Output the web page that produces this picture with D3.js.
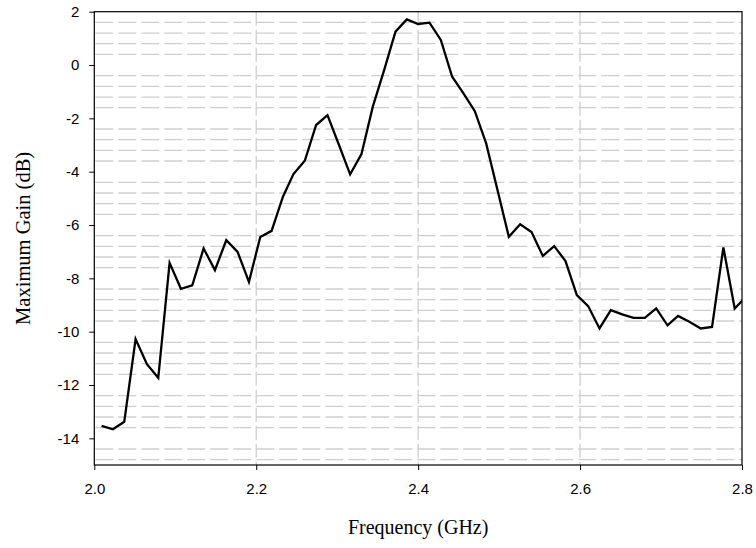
<!DOCTYPE html>
<html>
<head>
<meta charset="utf-8">
<script src="https://cdn.jsdelivr.net/npm/d3@7"></script>
<style>
  html, body { margin: 0; padding: 0; background: #fff; }
  svg { display: block; }
</style>
</head>
<body>
<svg id="chart" width="756" height="548"></svg>
<script>
// ---- Data ----
const frequencies = [
  2.009, 2.023, 2.037, 2.051, 2.065, 2.079, 2.093, 2.107, 2.121, 2.135,
  2.149, 2.163, 2.177, 2.191, 2.205, 2.219, 2.233, 2.246, 2.260, 2.274,
  2.288, 2.302, 2.316, 2.330, 2.344, 2.358, 2.372, 2.386, 2.400, 2.414,
  2.428, 2.442, 2.456, 2.470, 2.484, 2.498, 2.512, 2.526, 2.540, 2.554,
  2.568, 2.582, 2.596, 2.610, 2.624, 2.638, 2.652, 2.666, 2.680, 2.694,
  2.708, 2.721, 2.735, 2.749, 2.763, 2.777, 2.791, 2.805
];
const gainDb = [
  -13.53, -13.66, -13.38, -10.28, -11.22, -11.73, -7.42, -8.39, -8.26, -6.88,
  -7.69, -6.57, -7.01, -8.13, -6.45, -6.22, -4.94, -4.09, -3.59, -2.25,
  -1.88, -2.98, -4.10, -3.34, -1.56, -0.19, 1.25, 1.71, 1.54, 1.59,
  0.94, -0.44, -1.06, -1.73, -2.94, -4.69, -6.44, -5.97, -6.26, -7.16,
  -6.79, -7.35, -8.63, -9.04, -9.88, -9.19, -9.35, -9.48, -9.48, -9.13,
  -9.76, -9.41, -9.63, -9.88, -9.82, -6.84, -9.13, -8.69
];
const xTicks = [2.0, 2.2, 2.4, 2.6, 2.8];
const xTickLabels = ["2.0", "2.2", "2.4", "2.6", "2.8"];
const yTicks = [2, 0, -2, -4, -6, -8, -10, -12, -14];
const yTickLabels = ["2", "0", "-2", "-4", "-6", "-8", "-10", "-12", "-14"];
const xTitle = "Frequency (GHz)";
const yTitle = "Maximum Gain (dB)";

// ---- Layout ----
const svg = d3.select("#chart");
const pL = 94.3, pR = 742, pT = 11.7, pB = 465;
const x = d3.scaleLinear().domain([2.0, 2.8]).range([pL, pR]);
const y = d3.scaleLinear().domain([-15, 2]).range([pB, pT]);

// minor horizontal grid every 0.4 below each major tick (excluding majors)
const minorY = [];
for (let i = 0; i < yTicks.length; i++) {
  for (let k = 1; k <= 4; k++) {
    const v = +(yTicks[i] - 0.4 * k).toFixed(2);
    if (v > -15) minorY.push(v);
  }
}

const grid = svg.append("g");
grid.selectAll("line.hy").data(minorY).enter().append("line")
  .attr("x1", pL + 1).attr("x2", pR)
  .attr("y1", d => y(d)).attr("y2", d => y(d))
  .attr("stroke", "#cfcfcf").attr("stroke-width", 1.3)
  .attr("stroke-dasharray", "18,5");

grid.selectAll("line.vx").data(xTicks.slice(1, -1)).enter().append("line")
  .attr("x1", d => x(d)).attr("x2", d => x(d))
  .attr("y1", pT).attr("y2", pB)
  .attr("stroke", "#cfcfcf").attr("stroke-width", 1.3)
  .attr("stroke-dasharray", "14,4");

// clip
svg.append("clipPath").attr("id", "clip")
  .append("rect").attr("x", pL).attr("y", pT)
  .attr("width", pR - pL).attr("height", pB - pT);

// data line
const line = d3.line().x((d, i) => x(frequencies[i])).y(d => y(d));
svg.append("path")
  .datum(gainDb)
  .attr("clip-path", "url(#clip)")
  .attr("d", line)
  .attr("fill", "none")
  .attr("stroke", "#000")
  .attr("stroke-width", 2.3)
  .attr("stroke-linejoin", "miter");

// frame
svg.append("rect").attr("x", pL).attr("y", pT)
  .attr("width", pR - pL).attr("height", pB - pT)
  .attr("fill", "none").attr("stroke", "#000").attr("stroke-width", 1.2);

// axes
const yAxis = d3.axisLeft(y).tickValues(yTicks).tickSize(5).tickPadding(10)
  .tickFormat((d, i) => yTickLabels[i]);
const gy = svg.append("g").attr("transform", `translate(${pL},0)`).call(yAxis);
gy.select(".domain").remove();
gy.selectAll("text").attr("font-family", "Liberation Sans, Arial, sans-serif")
  .attr("font-size", 15).attr("fill", "#000");
gy.selectAll("line").attr("stroke", "#000");

const xAxis = d3.axisBottom(x).tickValues(xTicks).tickSize(5).tickPadding(13)
  .tickFormat((d, i) => xTickLabels[i]);
const gx = svg.append("g").attr("transform", `translate(0,${pB})`).call(xAxis);
gx.select(".domain").remove();
gx.selectAll("text").attr("font-family", "Liberation Sans, Arial, sans-serif")
  .attr("font-size", 15).attr("fill", "#000");
gx.selectAll("line").attr("stroke", "#000");

// titles
svg.append("text")
  .attr("x", (pL + pR) / 2).attr("y", 534)
  .attr("text-anchor", "middle")
  .attr("font-family", "Liberation Serif, Times New Roman, serif")
  .attr("font-size", 20).attr("fill", "#000")
  .text(xTitle);

svg.append("text")
  .attr("transform", `translate(30,${(pT + pB) / 2}) rotate(-90)`)
  .attr("text-anchor", "middle")
  .attr("font-family", "Liberation Serif, Times New Roman, serif")
  .attr("font-size", 20.5).attr("fill", "#000")
  .text(yTitle);
</script>
</body>
</html>
